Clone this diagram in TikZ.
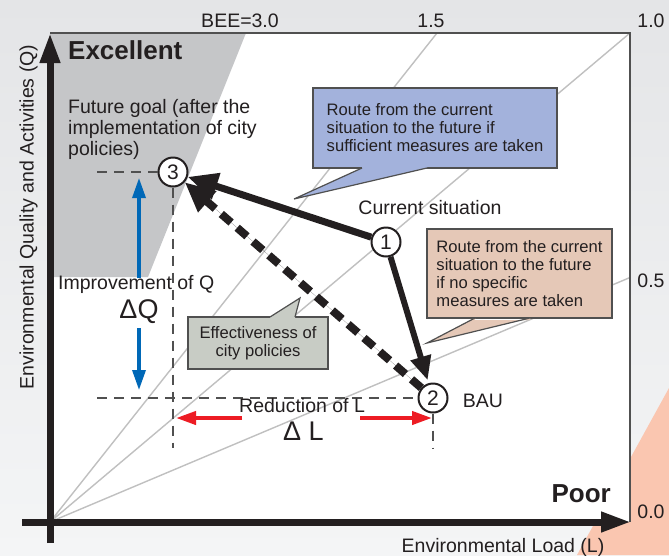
\documentclass[tikz,border=0pt]{standalone}
\usepackage{fontspec}
\setmainfont{Liberation Sans}
\usetikzlibrary{arrows.meta}
\definecolor{bgtop}{RGB}{228,229,231}
\definecolor{bgbot}{RGB}{244,245,246}
\definecolor{salmonbg}{RGB}{250,198,176}
\definecolor{exgray}{RGB}{197,198,200}
\definecolor{beeline}{RGB}{192,192,192}
\definecolor{axisblack}{RGB}{35,31,32}
\definecolor{framegray}{RGB}{80,80,80}
\definecolor{bluebox}{RGB}{163,178,220}
\definecolor{pinkbox}{RGB}{229,200,183}
\definecolor{greenbox}{RGB}{200,204,197}
\definecolor{qblue}{RGB}{0,104,183}
\definecolor{lred}{RGB}{237,28,36}
\newcommand\myfs[2]{\fontsize{#1}{#2}\selectfont}
\begin{document}
\begin{tikzpicture}[x=1pt,y=-1pt,
  lbl/.style={inner sep=0pt, text=axisblack, font=\myfs{19.5}{21}},
  biglbl/.style={inner sep=0pt, text=axisblack, font=\myfs{27}{27}},
  headlbl/.style={inner sep=0pt, text=axisblack, font=\bfseries\myfs{26}{26}},
  cbox/.style={draw=framegray, line width=1.2pt, inner sep=0pt, align=left, text=axisblack, font=\myfs{16.6}{18}},
  tailedge/.style={draw=framegray, line width=1.2pt},
  numc/.style={circle, draw=axisblack, line width=2pt, fill=white, minimum size=29pt, inner sep=0pt, text=axisblack, font=\myfs{21}{21}},
  guide/.style={draw=framegray, line width=1.2pt, dash pattern=on 10pt off 7pt},
  axisline/.style={draw=axisblack, line width=7pt, -{Triangle[length=30pt,width=19pt]}},
  route/.style={draw=axisblack, fill=axisblack, line width=7pt, -{Triangle[length=30pt,width=26pt]}},
  qarrow/.style={draw=qblue, fill=qblue, line width=3.3pt, -{Triangle[length=20pt,width=13pt]}},
  larrow/.style={draw=lred, fill=lred, line width=4pt, -{Triangle[length=20pt,width=13pt]}}
]
\useasboundingbox (0,0) rectangle (669,555);
\shade[top color=bgtop, bottom color=bgbot] (0,0) rectangle (669,555);
\fill[salmonbg] (669,388) -- (577,555) -- (669,555) -- cycle;

\coordinate (O) at (50,522);
\coordinate (TL) at (50,33);
\coordinate (TR) at (630,33);
\coordinate (BR) at (630,522);
\fill[white] (TL) rectangle (BR);
\fill[exgray] (TL) -- (246,33) -- (148,277) -- (50,277) -- cycle;
\draw[beeline, line width=1.4pt] (O) -- (437,33) (O) -- (TR) (O) -- (630,277.5);
\draw[framegray, line width=1.3pt] (TL) -- (TR) -- (BR);

% points
\node[numc] (n1) at (386,242) {1};
\node[numc] (n2) at (433,398) {2};
\node[numc] (n3) at (173,172) {3};

% guide lines
\coordinate (g3l) at (97,172);
\coordinate (g3b) at (173,448);
\coordinate (g2l) at (97,398);
\coordinate (g2b) at (433,448);
\draw[guide] (g3l) -- (n3.west);
\draw[guide] (n3.south) -- (g3b);
\draw[guide] (g2l) -- (n2.west);
\draw[guide] (n2.south) -- (g2b);

% axes
\coordinate (ybot) at (50,543);
\coordinate (ytop) at (50,33);
\coordinate (xleft) at (22,522);
\coordinate (xright) at (631,522);
\draw[axisline] (ybot) -- (ytop);
\draw[axisline] (xleft) -- (xright);

% callouts
\node[cbox, fill=bluebox, minimum width=244pt, minimum height=80pt] (cb) at (435,128)
  {Route from the current\\situation to the future if\\sufficient measures are taken};
\coordinate (cba) at (362,168);
\coordinate (cbb) at (427,168);
\coordinate (cbt) at (294,199);
\fill[bluebox] (362,166) -- (427,166) -- (cbb) -- (cbt) -- (cba) -- cycle;
\draw[tailedge] (cba) -- (cbt) -- (cbb);

\node[cbox, fill=pinkbox, minimum width=185pt, minimum height=89pt] (cp) at (519.5,273.5)
  {Route from the current\\situation to the future\\if no specific\\measures are taken};
\coordinate (cpa) at (475,318);
\coordinate (cpb) at (530,318);
\coordinate (cpt) at (427,343);
\fill[pinkbox] (475,320) -- (530,320) -- (cpb) -- (cpt) -- (cpa) -- cycle;
\draw[tailedge] (cpa) -- (cpt) -- (cpb);

\node[cbox, fill=greenbox, align=center, minimum width=140pt, minimum height=52pt] (cg) at (258,343)
  {Effectiveness of\\city policies};
\coordinate (cga) at (270,317);
\coordinate (cgb) at (295,317);
\coordinate (cgt) at (300,298);
\fill[greenbox] (270,319) -- (295,319) -- (cgb) -- (cgt) -- (cga) -- cycle;
\draw[tailedge] (cga) -- (cgt) -- (cgb);

% routes
\draw[route] (n1) -- (n3);
\draw[route, line width=6pt, -{Triangle[length=24pt,width=20pt]}, shorten >=3pt] (n1) -- (n2);
\draw[route, line width=8pt, dash pattern=on 13pt off 8pt] (n2) -- (n3);

% delta arrows
\coordinate (qu0) at (139,278);
\coordinate (qu1) at (139,178);
\coordinate (qd0) at (139,328);
\coordinate (qd1) at (139,390);
\draw[qarrow] (qu0) -- (qu1);
\draw[qarrow] (qd0) -- (qd1);
\coordinate (ll0) at (242,418);
\coordinate (ll1) at (176,418);
\coordinate (lr0) at (360,418);
\coordinate (lr1) at (432,418);
\draw[larrow] (ll0) -- (ll1);
\draw[larrow] (lr0) -- (lr1);

% texts
\node[headlbl, anchor=base west] (excellent) at (68,59) {Excellent};
\node[headlbl, anchor=base east] (poor) at (611,502) {Poor};
\node[lbl] (bee3) at (240,21) {BEE=3.0};
\node[lbl] (bee15) at (431,21) {1.5};
\node[lbl] (bee10) at (651,21) {1.0};
\node[lbl] (bee05) at (651,281) {0.5};
\node[lbl] (bee00) at (651,512) {0.0};
\node[lbl, rotate=90, anchor=base] (ylab) at (33.5,217) {Environmental Quality and Activities (Q)};
\node[lbl, anchor=base] (xlab) at (503,552) {Environmental Load (L)};
\node[lbl, align=left, anchor=north west] (goal) at (68,99.5) {Future goal (after the\\implementation of city\\policies)};
\node[lbl] (cur) at (430,208) {Current situation};
\node[lbl] (bau) at (483,401) {BAU};
\node[lbl, anchor=base west] (impq) at (58,289) {Improvement of Q};
\node[biglbl, anchor=base] (dq) at (139,318) {ΔQ};
\node[lbl, anchor=base west] (redl) at (239,412) {Reduction of L};
\node[biglbl, anchor=base] (dl) at (303.5,440) {Δ L};
\end{tikzpicture}
\end{document}
